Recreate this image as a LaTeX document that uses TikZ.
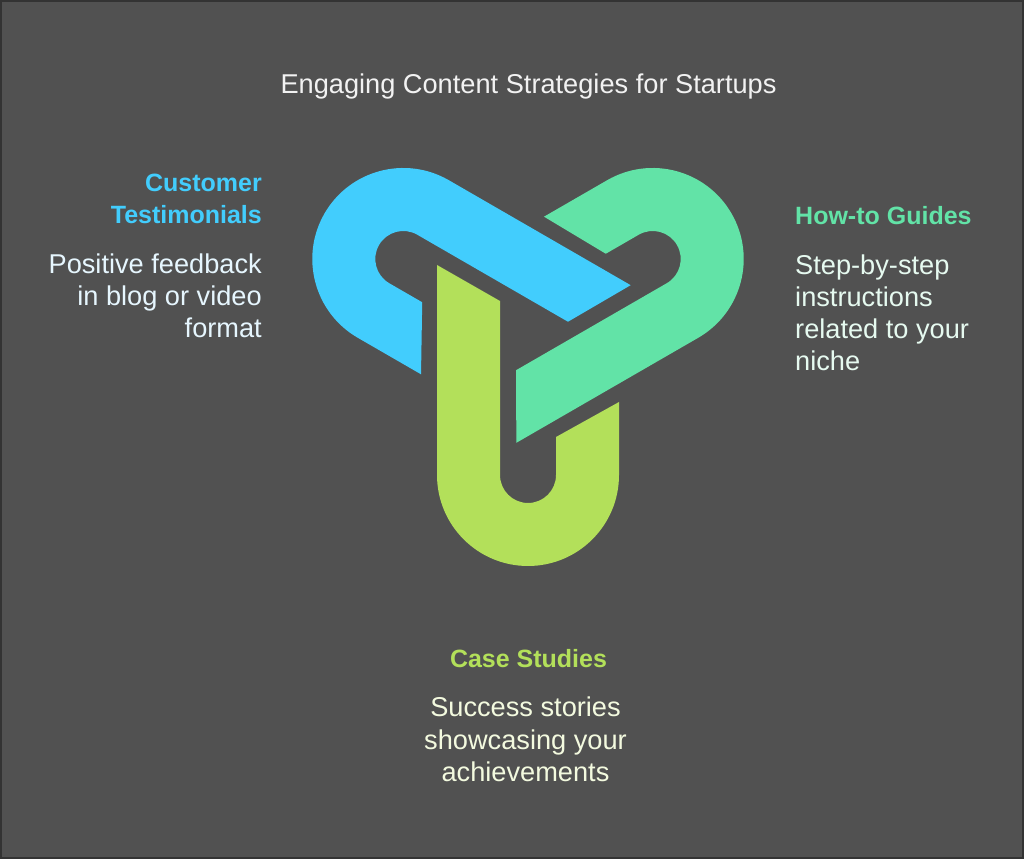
\documentclass[tikz,border=0pt]{standalone}
\usepackage{fontspec}
\setmainfont{Liberation Sans}
\definecolor{bgdark}{HTML}{515151}
\definecolor{edgedark}{HTML}{333333}
\definecolor{skyband}{HTML}{42CDFD}
\definecolor{mintband}{HTML}{62E3A7}
\definecolor{limeband}{HTML}{B3E05A}
\definecolor{titletext}{HTML}{F2F2F2}
\definecolor{skytext}{HTML}{E6F6FE}
\definecolor{minttext}{HTML}{E6FAF0}
\definecolor{limetext}{HTML}{F3FADF}

\begin{document}
\begin{tikzpicture}[x=1pt, y=1pt,
		headtext/.style={font=\fontsize{25}{32}\selectfont\bfseries, inner sep=0pt},
		bodytext/.style={font=\fontsize{27.2}{32.3}\selectfont, inner sep=0pt}]
		\useasboundingbox (0,0) rectangle (1024,859);
		\fill[bgdark] (0,0) rectangle (1024,859);
		\draw[edgedark, line width=2pt] (1,1) rectangle (1023,858);
		% three hairpin links turned about the middle
		\foreach \ang/\col in {0/limeband, -120/skyband, 120/mintband}
			\fill[\col, shift={(528,528)}, rotate=\ang]
				(-91,66) -- (-91,-144) arc[start angle=180, end angle=360, radius=91pt]
				-- (91,-71) -- (28,-106) -- (28,-144)
				arc[start angle=0, end angle=-180, radius=28pt] -- (-28,30) -- cycle;
		% base of a several-line node sits on its last line
		\node[bodytext, titletext, anchor=base] (title) at (528.5, 765.7) {Engaging Content Strategies for Startups};
		\node[headtext, skyband, anchor=base east, align=right] (testimonials) at (262, 635) {Customer\\Testimonials};
		\node[bodytext, skytext, anchor=base east, align=right] (testimonialsnote) at (262, 521) {Positive feedback\\in blog or video\\format};
		\node[headtext, mintband, anchor=base west, align=left] (guides) at (795, 634) {How-to Guides};
		\node[bodytext, minttext, anchor=base west, align=left] (guidesnote) at (795, 488) {Step-by-step\\instructions\\related to your\\niche};
		\node[headtext, limeband, anchor=base] (cases) at (528.5, 191) {Case Studies};
		\node[bodytext, limetext, anchor=base, align=center] (casesnote) at (525.5, 77.5) {Success stories\\showcasing your\\achievements};
	\end{tikzpicture}
\end{document}
